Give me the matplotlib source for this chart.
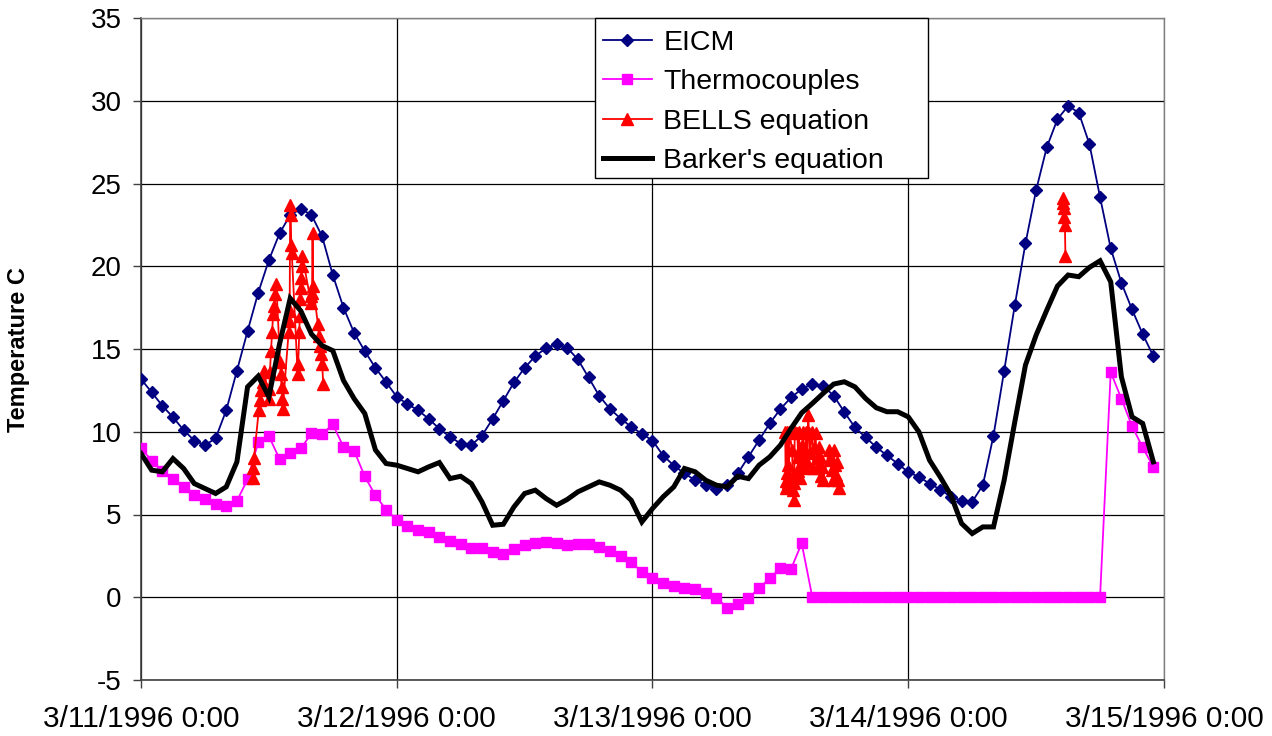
import numpy as np
import matplotlib
matplotlib.use("Agg")
import matplotlib.pyplot as plt
from matplotlib.patches import Rectangle

# ---------------- data ----------------
hours = np.arange(96)  # hourly, starting 3/11/1996 0:00

eicm = [13.18, 12.39, 11.57, 10.88, 10.10, 9.47, 9.19, 9.60, 11.30, 13.68,
        16.08, 18.40, 20.37, 21.98, 23.10, 23.46, 23.10, 21.80, 19.47, 17.50,
        15.98, 14.87, 13.86, 13.00, 12.11, 11.67, 11.30, 10.78, 10.18, 9.69,
        9.29, 9.19, 9.77, 10.78, 11.87, 12.98, 13.86, 14.57, 15.05, 15.30,
        15.07, 14.37, 13.28, 12.17, 11.39, 10.80, 10.30, 9.88, 9.47, 8.56,
        7.96, 7.48, 7.07, 6.79, 6.57, 6.79, 7.48, 8.48, 9.49, 10.50,
        11.37, 12.07, 12.58, 12.90, 12.76, 12.19, 11.19, 10.26, 9.66, 9.07,
        8.57, 8.08, 7.56, 7.27, 6.87, 6.51, 6.07, 5.83, 5.77, 6.77,
        9.77, 13.68, 17.65, 21.38, 24.60, 27.19, 28.88, 29.69, 29.28, 27.39,
        24.17, 21.08, 19.00, 17.39, 15.90, 14.57]

thermocouples = [9.03, 8.24, 7.60, 7.12, 6.69, 6.15, 5.91, 5.64, 5.52, 5.82,
                 7.12, 9.37, 9.73, 8.36, 8.72, 8.99, 9.90, 9.86, 10.44, 9.09,
                 8.85, 7.30, 6.15, 5.29, 4.66, 4.31, 4.09, 3.93, 3.65, 3.39,
                 3.19, 2.98, 2.98, 2.74, 2.64, 2.92, 3.14, 3.25, 3.33, 3.25,
                 3.13, 3.19, 3.21, 3.05, 2.80, 2.52, 2.10, 1.54, 1.16, 0.89,
                 0.68, 0.56, 0.52, 0.28, -0.04, -0.62, -0.38, -0.06, 0.54, 1.15,
                 1.75, 1.71, 3.26, 0.00, 0.00, 0.00, 0.00, 0.00, 0.00, 0.00,
                 0.00, 0.00, 0.00, 0.00, 0.00, 0.00, 0.00, 0.00, 0.00, 0.00,
                 0.00, 0.00, 0.00, 0.00, 0.00, 0.00, 0.00, 0.00, 0.00, 0.00,
                 0.00, 13.60, 12.00, 10.34, 9.05, 7.88]

barker = [8.69, 7.68, 7.58, 8.38, 7.78, 6.87, 6.57, 6.27, 6.67, 8.18,
          12.71, 13.36, 12.11, 15.30, 18.06, 17.30, 15.90, 15.20, 14.90, 13.10,
          12.00, 11.10, 8.90, 8.08, 7.98, 7.78, 7.58, 7.88, 8.14, 7.17,
          7.31, 6.87, 5.76, 4.35, 4.41, 5.46, 6.27, 6.47, 5.97, 5.56,
          5.91, 6.37, 6.67, 6.97, 6.77, 6.47, 5.86, 4.55, 5.36, 6.07,
          6.67, 7.78, 7.58, 7.07, 6.77, 6.67, 7.31, 7.17, 7.98, 8.48,
          9.19, 10.20, 11.14, 11.71, 12.31, 12.88, 13.02, 12.71, 12.01, 11.45,
          11.21, 11.21, 10.90, 9.99, 8.28, 7.27, 6.17, 4.46, 3.85, 4.25,
          4.25, 7.07, 10.60, 14.03, 15.84, 17.35, 18.80, 19.47, 19.37, 19.93,
          20.33, 19.06, 13.32, 10.90, 10.50, 8.18]

# BELLS equation: irregular times (hours after 3/11 0:00); NaN separates test periods
bells_hours = [10.50, 10.55, 10.60, 11.05, 11.15, 11.30, 11.45, 11.55,
               12.00, 12.05, 12.10, 12.20, 12.30, 12.40, 12.50, 12.60, 12.70,
               13.05, 13.10, 13.20, 13.25, 13.30,
               13.85, 13.90, 13.95, 14.00, 14.05, 14.10, 14.15,
               14.70, 14.75, 14.85, 14.90, 14.95, 15.00, 15.05, 15.10, 15.15,
               15.95, 16.00, 16.05, 16.10, 16.15,
               16.60, 16.70, 16.80, 16.90, 17.00, 17.10,
               40.0,
               60.45, 60.50, 60.55, 60.60, 60.65, 60.70, 60.75, 60.80, 60.85,
               61.10, 61.15, 61.20, 61.25, 61.30, 61.35,
               61.60, 61.65, 61.70, 61.75, 61.80, 61.85, 61.90,
               62.00, 62.10, 62.20, 62.30, 62.40, 62.50, 62.60, 62.70, 62.75,
               63.00, 63.10, 63.20, 63.30, 63.40, 63.50, 63.60, 63.70, 63.80, 63.90, 64.00,
               64.60, 64.70, 64.80, 64.90, 65.00, 65.10, 65.20, 65.30, 65.40, 65.50,
               75.0,
               86.50, 86.55, 86.60, 86.65, 86.70, 86.75]
bells = [7.2, 7.8, 8.4, 11.3, 11.9, 12.5, 13.0, 13.7,
         12.0, 12.6, 13.6, 14.9, 16.0, 17.1, 17.6, 18.3, 18.9,
         14.2, 13.5, 12.7, 12.0, 11.4,
         16.0, 16.7, 17.3, 23.7, 23.1, 21.3, 20.8,
         13.5, 14.1, 16.0, 17.0, 18.0, 18.7, 19.3, 20.0, 20.6,
         17.8, 18.2, 18.4, 22.0, 18.8,
         16.5, 15.8, 15.2, 14.7, 14.1, 12.9,
         np.nan,
         10.0, 7.0, 6.6, 7.5, 10.0, 8.0, 6.9, 7.3, 10.0,
         8.9, 7.4, 6.5, 5.9, 6.9, 10.0,
         9.9, 8.5, 7.6, 10.0, 8.0, 7.2, 9.1,
         8.5, 10.0, 9.0, 7.8, 10.0, 8.2, 11.0, 9.9, 8.7,
         10.0, 7.8, 9.0, 9.9, 8.4, 7.8, 9.1, 8.5, 7.3, 7.9, 7.1,
         8.9, 8.3, 7.7, 7.1, 8.9, 8.0, 7.4, 8.2, 7.1, 6.6,
         np.nan,
         24.1, 23.8, 23.5, 23.0, 22.5, 20.6]

xtick_pos = [0, 24, 48, 72, 96]
xtick_labels = ["3/11/1996 0:00", "3/12/1996 0:00", "3/13/1996 0:00",
                "3/14/1996 0:00", "3/15/1996 0:00"]
yticks = list(range(-5, 36, 5))

# ---------------- plot ----------------
plt.rcParams['font.family'] = ['Liberation Sans', 'DejaVu Sans']
plt.rcParams['axes.unicode_minus'] = False
fig = plt.figure(figsize=(12.72, 7.36), dpi=100)
ax = fig.add_axes([141 / 1272, 56 / 736, 1023 / 1272, 662 / 736])

ax.plot(hours, eicm, color='#000080', lw=1.3, marker='D', ms=6,
        mfc='#000080', mec='#000080', label='EICM', zorder=3)
ax.plot(hours, thermocouples, color='#FF00FF', lw=1.3, marker='s', ms=7.5,
        mfc='#FF00FF', mec='#FF00FF', label='Thermocouples', zorder=3)
ax.plot(bells_hours, bells, color='#FF0000', lw=1.3, marker='^', ms=8,
        mfc='#FF0000', mec='#FF0000', label='BELLS equation', zorder=4)
ax.plot(hours, barker, color='black', lw=3.6, solid_joinstyle='miter',
        label="Barker's equation", zorder=5)

ax.set_xlim(0, 96)
ax.set_ylim(-5, 35)
ax.set_xticks(xtick_pos)
ax.set_xticklabels(xtick_labels)
ax.set_yticks(yticks)
ax.tick_params(axis='both', labelsize=20, direction='out', length=6,
               width=1, color='#404040')
ax.tick_params(axis='x', labelsize=21.5, pad=12)
ax.tick_params(axis='y', pad=8)
ax.grid(True, color='black', lw=0.9)
ax.set_axisbelow(True)
for s in ['top', 'right']:
    ax.spines[s].set_color('#808080')
    ax.spines[s].set_linewidth(1)
for s in ['left', 'bottom']:
    ax.spines[s].set_color('#404040')
    ax.spines[s].set_linewidth(1.2)

fig.text(19 / 1272, 1 - 350 / 736, 'Temperature C', fontsize=17,
         fontweight='bold', rotation=90, ha='center', va='center')

# legend: frame drawn as a separate rectangle (figure pixels 595..928 x 18..178)
frame = Rectangle((595 / 1272, 1 - 178 / 736), 333 / 1272, 160 / 736,
                  transform=fig.transFigure, facecolor='white',
                  edgecolor='black', lw=1, zorder=6, clip_on=False)
ax.add_patch(frame)
leg = ax.legend(loc='upper left', bbox_to_anchor=(603 / 1272, 1 - 30 / 736),
                bbox_transform=fig.transFigure,
                fontsize=20.5, frameon=False, borderpad=0,
                labelspacing=0.47, handlelength=1.72, handletextpad=0.4,
                borderaxespad=0)
leg.set_zorder(7)

fig.savefig('out.png', dpi=100)
